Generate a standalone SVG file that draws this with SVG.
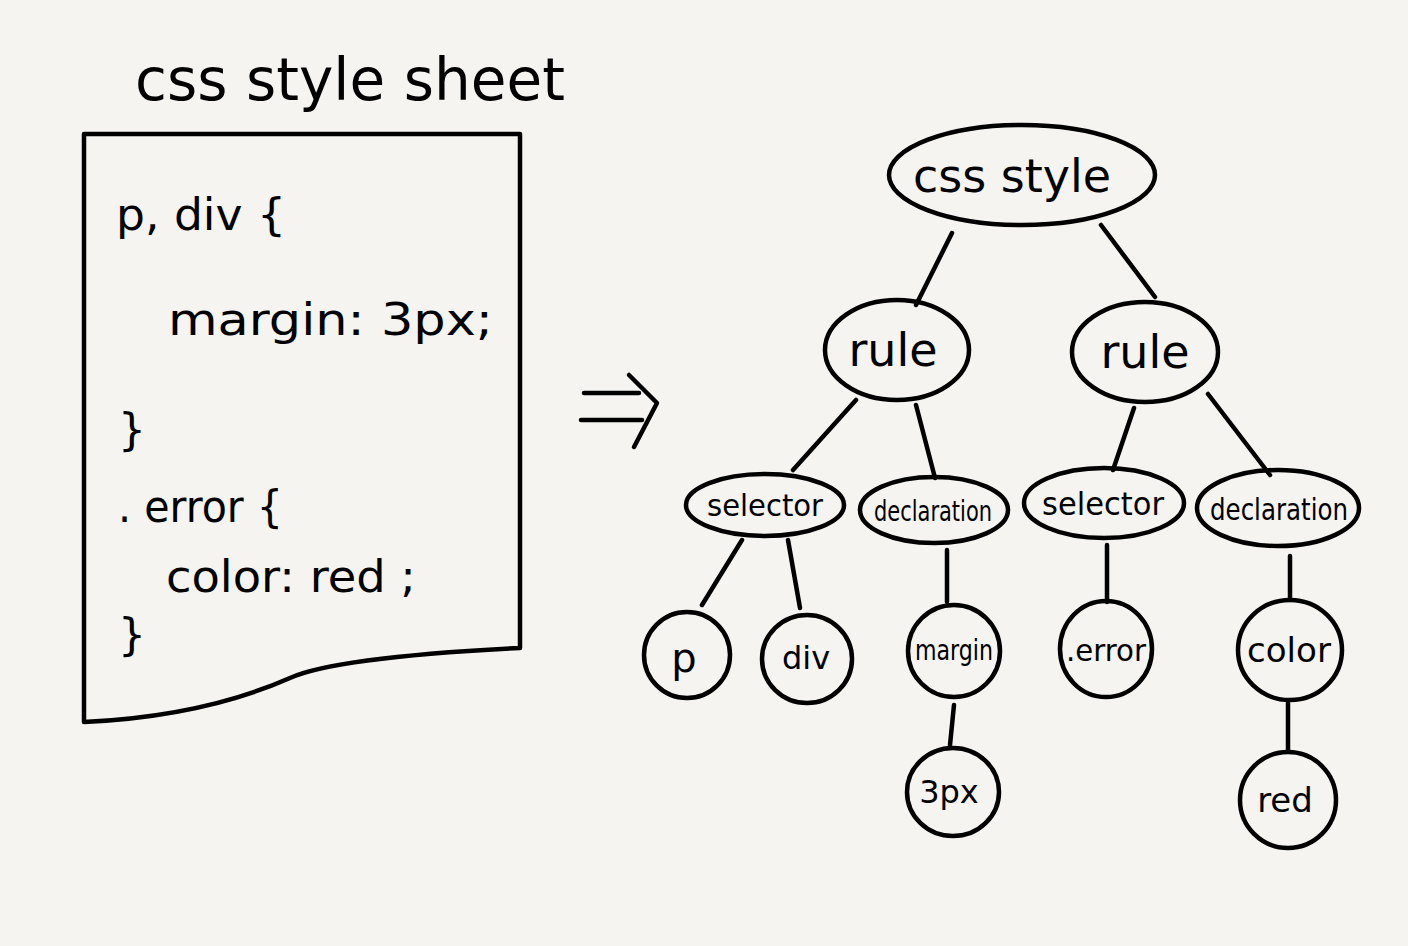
<svg xmlns="http://www.w3.org/2000/svg" width="1408" height="946" viewBox="0 0 1408 946">
<style>
.ln{fill:none;stroke:#000;stroke-width:4.5;stroke-linecap:round;stroke-linejoin:round}
.nd{fill:none;stroke:#000;stroke-width:4.5}
.t{font-family:"DejaVu Sans","Liberation Sans",sans-serif;fill:#000;text-anchor:middle}
.c{font-family:"DejaVu Sans","Liberation Sans",sans-serif;fill:#000}
</style>
<rect width="1408" height="946" fill="#f5f4f1"/>
<g id="sheet">
<text class="c" x="135" y="100" font-size="58" textLength="430" lengthAdjust="spacingAndGlyphs">css  style  sheet</text>
<path class="ln" d="M84,722 L84,134 L520,134 L520,648 C440,652 330,660 290,678 C240,700 170,718 84,722"/>
<text class="c" x="116" y="230" font-size="44" textLength="170" lengthAdjust="spacingAndGlyphs">p, div {</text>
<text class="c" x="168" y="335" font-size="44" textLength="325" lengthAdjust="spacingAndGlyphs">margin:  3px;</text>
<text class="c" x="118" y="445" font-size="44">}</text>
<text class="c" x="118" y="522" font-size="44" textLength="165" lengthAdjust="spacingAndGlyphs">. error {</text>
<text class="c" x="166" y="592" font-size="44" textLength="250" lengthAdjust="spacingAndGlyphs">color: red ;</text>
<text class="c" x="118" y="650" font-size="44">}</text>
</g>
<g id="arrow">
<path class="ln" d="M584,393 L639,393 M581,420 L642,420 M629,375 L657,403 L634,447"/>
</g>
<g id="connectors">
<path class="ln" d="M952,233 L916,305 M1101,225 L1155,297 M856,400 L793,470 M916,405 L935,478 M1134,408 L1113,470 M1208,394 L1270,475 M742,540 L702,605 M788,540 L800,608 M947,550 L947,602 M1107,545 L1107,602 M1290,556 L1290,600 M954,705 L950,745 M1288,703 L1288,750"/>
</g>
<g id="root"><ellipse class="nd" cx="1022" cy="175" rx="133" ry="50"/><text class="t" x="1012" y="192" font-size="46">css  style</text></g>
<g id="rule1"><ellipse class="nd" cx="897" cy="350" rx="72" ry="50"/><text class="t" x="893" y="366" font-size="46">rule</text></g>
<g id="rule2"><ellipse class="nd" cx="1145" cy="352" rx="73" ry="50"/><text class="t" x="1145" y="368" font-size="46">rule</text></g>
<g id="selector1"><ellipse class="nd" cx="765" cy="505" rx="79" ry="31"/><text class="t" x="765" y="516" font-size="30" textLength="116" lengthAdjust="spacingAndGlyphs">selector</text></g>
<g id="declaration1"><ellipse class="nd" cx="934" cy="510" rx="74" ry="33"/><text class="t" x="933" y="521" font-size="28" textLength="118" lengthAdjust="spacingAndGlyphs">declaration</text></g>
<g id="selector2"><ellipse class="nd" cx="1104" cy="503" rx="80" ry="35"/><text class="t" x="1103" y="515" font-size="32" textLength="122" lengthAdjust="spacingAndGlyphs">selector</text></g>
<g id="declaration2"><ellipse class="nd" cx="1278" cy="508" rx="81" ry="38"/><text class="t" x="1279" y="520" font-size="30" textLength="138" lengthAdjust="spacingAndGlyphs">declaration</text></g>
<g id="p"><ellipse class="nd" cx="687" cy="655" rx="43" ry="43"/><text class="t" x="684" y="672" font-size="40">p</text></g>
<g id="div"><ellipse class="nd" cx="807" cy="659" rx="45" ry="44"/><text class="t" x="806" y="669" font-size="32">div</text></g>
<g id="margin"><ellipse class="nd" cx="954" cy="651" rx="46" ry="46"/><text class="t" x="954" y="660" font-size="28" textLength="78" lengthAdjust="spacingAndGlyphs">margin</text></g>
<g id="px3"><ellipse class="nd" cx="953" cy="792" rx="46" ry="44"/><text class="t" x="949" y="803" font-size="32">3px</text></g>
<g id="error"><ellipse class="nd" cx="1106" cy="649" rx="46" ry="48"/><text class="t" x="1106" y="661" font-size="30" textLength="80" lengthAdjust="spacingAndGlyphs">.error</text></g>
<g id="color"><ellipse class="nd" cx="1290" cy="650" rx="52" ry="50"/><text class="t" x="1289" y="662" font-size="34" textLength="84" lengthAdjust="spacingAndGlyphs">color</text></g>
<g id="red"><ellipse class="nd" cx="1288" cy="800" rx="48" ry="48"/><text class="t" x="1285" y="812" font-size="34">red</text></g>
</svg>
